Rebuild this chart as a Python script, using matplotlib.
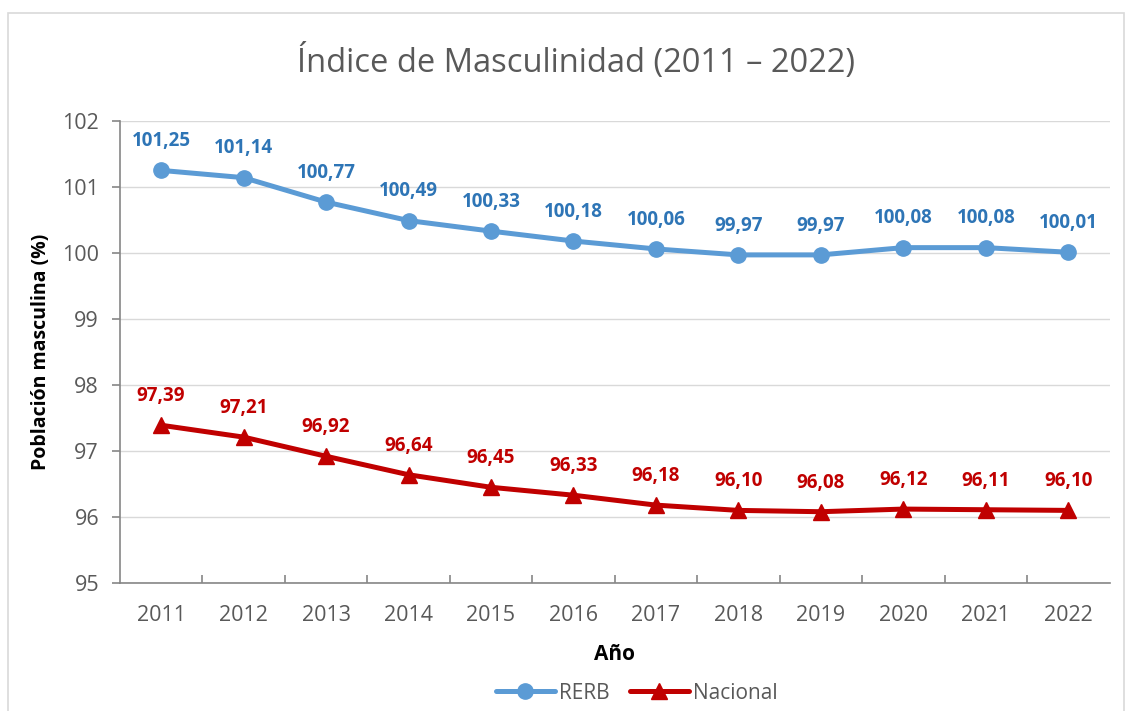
import numpy as np
import matplotlib.pyplot as plt
from matplotlib.patches import Rectangle

years = ['2011', '2012', '2013', '2014', '2015', '2016', '2017', '2018', '2019', '2020', '2021', '2022']
rerb = [101.25, 101.14, 100.77, 100.49, 100.33, 100.18, 100.06, 99.97, 99.97, 100.08, 100.08, 100.01]
nacional = [97.39, 97.21, 96.92, 96.64, 96.45, 96.33, 96.18, 96.10, 96.08, 96.12, 96.11, 96.10]

plt.rcParams['font.family'] = ['Open Sans', 'DejaVu Sans']

fig = plt.figure(figsize=(11.31, 7.11), dpi=100)
ax = fig.add_axes([0.106, 0.180, 0.875, 0.650])

# light border around the chart
fig.patches.append(Rectangle((8 / 1131, -0.01), 1116 / 1131, 1 - 13 / 711 + 0.01,
                             transform=fig.transFigure, fill=False,
                             edgecolor='#d9d9d9', linewidth=1.2))

x = np.arange(len(years))
blue_line = '#5b9bd5'
blue_txt = '#2e75b6'
red = '#c00000'

ax.plot(x, rerb, color=blue_line, lw=3.6, marker='o', ms=11, label='RERB', zorder=3,
        solid_capstyle='round')
ax.plot(x, nacional, color=red, lw=3.6, marker='^', ms=11, label='Nacional', zorder=3,
        solid_capstyle='round')

def fmt(v):
    return f'{v:.2f}'.replace('.', ',')

for xi, v in zip(x, rerb):
    ax.annotate(fmt(v), (xi, v), xytext=(0, 21), textcoords='offset points',
                ha='center', va='center', color=blue_txt, fontsize=13.5, fontweight='bold')
for xi, v in zip(x, nacional):
    ax.annotate(fmt(v), (xi, v), xytext=(0, 21), textcoords='offset points',
                ha='center', va='center', color=red, fontsize=13.5, fontweight='bold')

ax.set_xlim(-0.5, len(years) - 0.5)
ax.set_ylim(95, 102)
ax.set_yticks(range(95, 103))
ax.set_xticks(x)
ax.set_xticklabels(years)
ax.set_xticks(np.arange(0.5, len(years) - 1, 1), minor=True)

ax.grid(axis='y', color='#d9d9d9', lw=1)
ax.set_axisbelow(True)
for s in ['top', 'right']:
    ax.spines[s].set_visible(False)
for s in ['left', 'bottom']:
    ax.spines[s].set_color('#868686')
    ax.spines[s].set_linewidth(1.2)

ax.tick_params(axis='y', colors='#868686', labelcolor='#595959', labelsize=15.5, length=6, width=1.2, pad=9)
ax.tick_params(axis='x', which='major', length=0, labelcolor='#595959', labelsize=15.5, pad=16)
ax.tick_params(axis='x', which='minor', direction='in', length=6, width=1.2, colors='#868686')

ax.set_xlabel('Año', fontsize=15, fontweight='bold', labelpad=13)
ax.set_ylabel('Población masculina (%)', fontsize=14, fontweight='bold', labelpad=8)

fig.suptitle('Índice de Masculinidad (2011 – 2022)', x=0.509, y=0.938, fontsize=23.5, color='#595959')

fig.legend(loc='center', bbox_to_anchor=(0.563, 0.025), ncol=2, frameon=False,
           fontsize=15, labelcolor='#595959', handlelength=2.8, columnspacing=1.0,
           handletextpad=0.2)

fig.savefig('out.png', dpi=100)
